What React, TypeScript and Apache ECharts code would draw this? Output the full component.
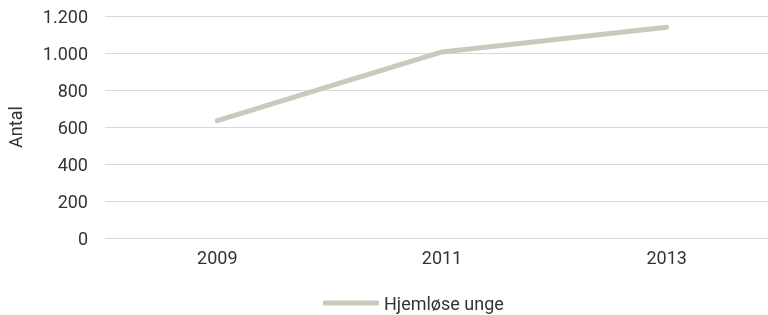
import React, { useEffect, useRef } from "react";
import * as echarts from "echarts";

const categories = ["2009", "2011", "2013"];
const seriesName = "Hjemløse unge";
const values = [634, 1006, 1139];
const yMin = 0;
const yMax = 1200;
const yInterval = 200;
const yAxisName = "Antal";

const fmt = (v: number) => String(v).replace(/\B(?=(\d{3})+(?!\d))/g, ".");

export default function App() {
  const ref = useRef<HTMLDivElement>(null);
  useEffect(() => {
    if (!ref.current) return;
    const chart = echarts.init(ref.current, undefined, { renderer: "svg" });
    const font = "Roboto, 'Noto Sans', sans-serif";
    chart.setOption({
      animation: false,
      textStyle: { fontFamily: font },
      grid: { left: 105, right: -11, top: 16, bottom: 77, containLabel: false, outerBoundsMode: "none" },
      legend: {
        data: [seriesName],
        left: 318,
        top: 289,
        icon: "roundRect",
        itemWidth: 56,
        itemHeight: 5,
        itemGap: 4,
        textStyle: { fontFamily: font, fontSize: 18, color: "#333333" },
      },
      xAxis: {
        type: "category",
        data: categories,
        boundaryGap: true,
        axisLine: { show: false },
        axisTick: { show: false },
        axisLabel: { fontFamily: font, fontSize: 18, color: "#333333", margin: 10 },
      },
      yAxis: {
        type: "value",
        min: yMin,
        max: yMax,
        interval: yInterval,
        name: yAxisName,
        nameLocation: "middle",
        nameGap: 81,
        nameTextStyle: { fontFamily: font, fontSize: 18, color: "#333333" },
        axisLine: { show: false },
        axisTick: { show: false },
        axisLabel: { fontFamily: font, fontSize: 18, color: "#333333", margin: 17, formatter: (v: number) => fmt(v) },
        splitLine: { lineStyle: { color: "#d9d9d9", width: 1 } },
      },
      series: [
        {
          name: seriesName,
          type: "line",
          data: values,
          showSymbol: false,
          symbol: "none",
          itemStyle: { color: "#ccc8bb" },
          lineStyle: { color: "#ccc8bb", width: 5, cap: "round", join: "round" },
        },
      ],
    });
    return () => chart.dispose();
  }, []);
  return <div ref={ref} style={{ position: "fixed", left: 0, top: 0, width: 768, height: 315 }} />;
}
